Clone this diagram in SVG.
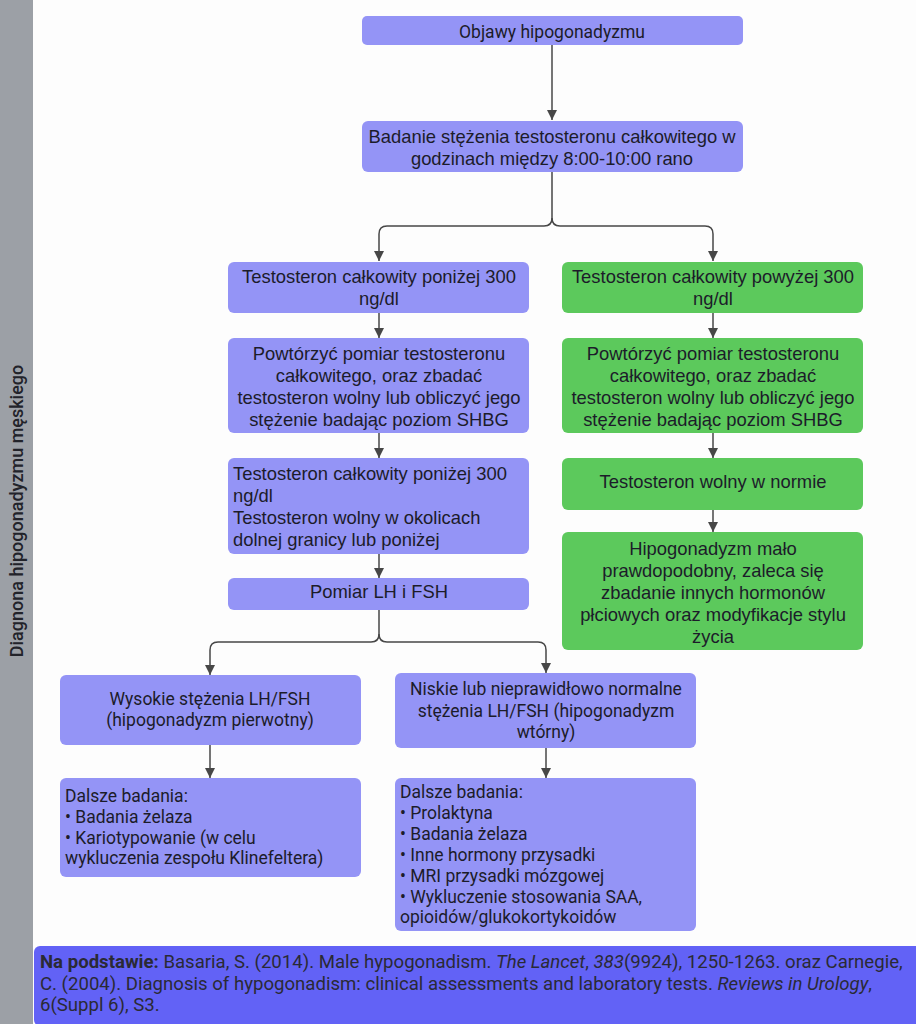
<svg xmlns="http://www.w3.org/2000/svg" width="916" height="1024" viewBox="0 0 916 1024">
<defs>
<style>
.box{fill:#9494f6;}
.grn{fill:#5cc95c;}
.a{font-family:"Liberation Sans",Arial,sans-serif;font-size:18.4px;fill:#1c1c2a;}
.r{font-family:Roboto,"Noto Sans",sans-serif;font-size:17.5px;fill:#1c1c2a;}
.c{text-anchor:middle;}
.con{fill:none;stroke:#474747;stroke-width:1.5;}
.ft{font-family:Roboto,sans-serif;font-size:18.6px;fill:#2a2a35;}
</style>
<marker id="ah" viewBox="0 0 10 10" refX="10" refY="5" markerWidth="10" markerHeight="10" markerUnits="userSpaceOnUse" orient="auto">
<path d="M0,0 L10,5 L0,10 Z" fill="#474747"/>
</marker>
</defs>
<rect width="916" height="1024" fill="#fdfdfd"/>
<g id="sidebar">
<rect x="0" y="0" width="33" height="1024" fill="#9ca0a6"/>
<text transform="translate(22.5,511) rotate(-90)" text-anchor="middle" font-family="Roboto,sans-serif" font-size="18" font-weight="500" fill="#22232a">Diagnona hipogonadyzmu męskiego</text>
</g>
<g id="connectors">
<path class="con" marker-end="url(#ah)" d="M552,45 V120"/>
<path class="con" marker-end="url(#ah)" d="M552,172 V218 Q552,226 544,226 H387 Q379,226 379,234 V261"/>
<path class="con" marker-end="url(#ah)" d="M552,218 Q552,226 560,226 H705 Q713,226 713,234 V261"/>
<path class="con" marker-end="url(#ah)" d="M379,312 V338"/>
<path class="con" marker-end="url(#ah)" d="M379,433 V458"/>
<path class="con" marker-end="url(#ah)" d="M379,554 V578"/>
<path class="con" marker-end="url(#ah)" d="M713,312 V338"/>
<path class="con" marker-end="url(#ah)" d="M713,433 V458"/>
<path class="con" marker-end="url(#ah)" d="M713,510 V532"/>
<path class="con" marker-end="url(#ah)" d="M379,610 V634 Q379,642 371,642 H218 Q210,642 210,650 V675"/>
<path class="con" marker-end="url(#ah)" d="M379,634 Q379,642 387,642 H538 Q546,642 546,650 V673"/>
<path class="con" marker-end="url(#ah)" d="M210,745 V778"/>
<path class="con" marker-end="url(#ah)" d="M546,748 V778"/>
</g>
<g id="n-objawy">
<rect class="box" x="362" y="16" width="381" height="29" rx="5"/>
<text class="r c" x="552" y="38">Objawy hipogonadyzmu</text>
</g>
<g id="n-badanie">
<rect class="box" x="362" y="121" width="381" height="51" rx="6"/>
<text class="a c" x="552" y="143">Badanie stężenia testosteronu całkowitego w</text>
<text class="a c" x="552" y="165">godzinach między 8:00-10:00 rano</text>
</g>
<g id="n-ponizej">
<rect class="box" x="228" y="262" width="301" height="51" rx="6"/>
<text class="a c" x="379" y="283">Testosteron całkowity poniżej 300</text>
<text class="a c" x="379" y="305">ng/dl</text>
</g>
<g id="n-powtorzyc-l">
<rect class="box" x="228" y="338" width="301" height="95" rx="6"/>
<text class="a c" x="379" y="360">Powtórzyć pomiar testosteronu</text>
<text class="a c" x="379" y="382">całkowitego, oraz zbadać</text>
<text class="a c" x="379" y="404">testosteron wolny lub obliczyć jego</text>
<text class="a c" x="379" y="426">stężenie badając poziom SHBG</text>
</g>
<g id="n-wynik-l">
<rect class="box" x="228" y="458" width="301" height="96" rx="6"/>
<text class="a" x="233" y="480">Testosteron całkowity poniżej 300</text>
<text class="a" x="233" y="502">ng/dl</text>
<text class="a" x="233" y="524">Testosteron wolny w okolicach</text>
<text class="a" x="233" y="546">dolnej granicy lub poniżej</text>
</g>
<g id="n-pomiar">
<rect class="box" x="228" y="578" width="301" height="32" rx="6"/>
<text class="a c" x="379" y="598">Pomiar LH i FSH</text>
</g>
<g id="n-powyzej">
<rect class="grn" x="562" y="262" width="301" height="51" rx="6"/>
<text class="a c" x="713" y="283">Testosteron całkowity powyżej 300</text>
<text class="a c" x="713" y="305">ng/dl</text>
</g>
<g id="n-powtorzyc-r">
<rect class="grn" x="562" y="338" width="301" height="95" rx="6"/>
<text class="a c" x="713" y="360">Powtórzyć pomiar testosteronu</text>
<text class="a c" x="713" y="382">całkowitego, oraz zbadać</text>
<text class="a c" x="713" y="404">testosteron wolny lub obliczyć jego</text>
<text class="a c" x="713" y="426">stężenie badając poziom SHBG</text>
</g>
<g id="n-norma">
<rect class="grn" x="562" y="458" width="301" height="52" rx="6"/>
<text class="a c" x="713" y="488">Testosteron wolny w normie</text>
</g>
<g id="n-malo">
<rect class="grn" x="562" y="532" width="301" height="118" rx="6"/>
<text class="a c" x="713" y="555">Hipogonadyzm mało</text>
<text class="a c" x="713" y="577">prawdopodobny, zaleca się</text>
<text class="a c" x="713" y="599">zbadanie innych hormonów</text>
<text class="a c" x="713" y="621">płciowych oraz modyfikacje stylu</text>
<text class="a c" x="713" y="643">życia</text>
</g>
<g id="n-wysokie">
<rect class="box" x="60" y="675" width="301" height="70" rx="6"/>
<text class="r c" x="210" y="705">Wysokie stężenia LH/FSH</text>
<text class="r c" x="210" y="726">(hipogonadyzm pierwotny)</text>
</g>
<g id="n-dalsze-l">
<rect class="box" x="60" y="778" width="301" height="99" rx="6"/>
<text class="r" x="65" y="802">Dalsze badania:</text>
<text class="r" x="65" y="823">• Badania żelaza</text>
<text class="r" x="65" y="843.5">• Kariotypowanie (w celu</text>
<text class="r" x="65" y="864">wykluczenia zespołu Klinefeltera)</text>
</g>
<g id="n-niskie">
<rect class="box" x="395" y="673" width="301" height="75" rx="6"/>
<text class="r c" x="546" y="695">Niskie lub nieprawidłowo normalne</text>
<text class="r c" x="546" y="717">stężenia LH/FSH (hipogonadyzm</text>
<text class="r c" x="546" y="738">wtórny)</text>
</g>
<g id="n-dalsze-r">
<rect class="box" x="395" y="778" width="301" height="153" rx="6"/>
<text class="r" x="400" y="798">Dalsze badania:</text>
<text class="r" x="400" y="819">• Prolaktyna</text>
<text class="r" x="400" y="840">• Badania żelaza</text>
<text class="r" x="400" y="861">• Inne hormony przysadki</text>
<text class="r" x="400" y="882">• MRI przysadki mózgowej</text>
<text class="r" x="400" y="903">• Wykluczenie stosowania SAA,</text>
<text class="r" x="400" y="923">opioidów/glukokortykoidów</text>
</g>
<g id="footer">
<rect x="34" y="946" width="890" height="80" rx="6" fill="#6262f6"/>
<text class="ft" x="40" y="968"><tspan font-weight="700">Na podstawie:</tspan> Basaria, S. (2014). Male hypogonadism. <tspan font-style="italic">The Lancet</tspan>, <tspan font-style="italic">383</tspan>(9924), 1250-1263. oraz Carnegie,<tspan x="40" dy="21.5">C. (2004). Diagnosis of hypogonadism: clinical assessments and laboratory tests. </tspan><tspan font-style="italic">Reviews in Urology</tspan>,<tspan x="40" dy="21.5">6(Suppl 6), S3.</tspan></text>
</g>
</svg>
